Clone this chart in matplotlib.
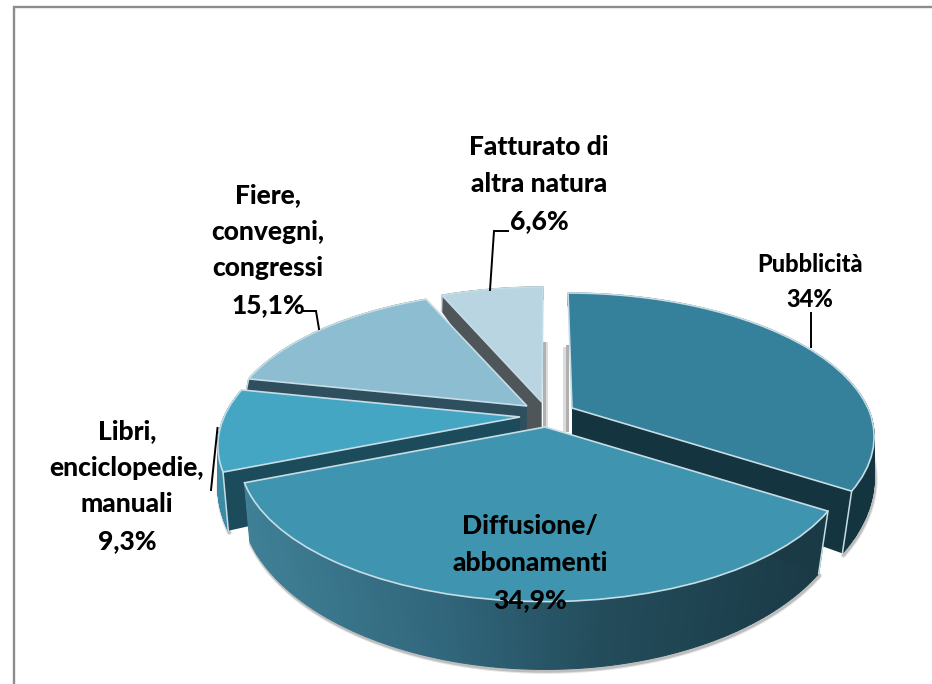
import numpy as np
import matplotlib
matplotlib.use("Agg")
import matplotlib.pyplot as plt
from matplotlib.transforms import Transform
from matplotlib.colors import LinearSegmentedColormap

plt.rcParams['font.family'] = ['Lato', 'DejaVu Sans']

# ---- data
categories = ["Pubblicità", "Diffusione/\nabbonamenti", "Libri,\nenciclopedie,\nmanuali",
              "Fiere,\nconvegni,\ncongressi", "Fatturato di\naltra natura"]
values = [34.0, 34.9, 9.3, 15.1, 6.6]
value_labels = ["34%", "34,9%", "9,3%", "15,1%", "6,6%"]

# ---- styling
top_colors = ["#35809a", "#3f95af", "#45a6c3", "#8cbdd1", "#b9d5e2"]
face_colors = ["#14343f", "#1a3a46", "#1c4b5c", "#2f4f5f", "#4f5659"]
arc_colors = ["#14343f", None, "#3c8ba5", "#2f4f5f", "#4f5659"]
apex_x = [572, 545, 520, 527, 541.7]
apex_y = [408, 427, 417, 406, 402]
scale = [1.0, 1.012, 1.0, 1.0, 1.0]
shear = [-4.0, 0.0, 0.0, 0.0, 1.3]
bottom_x = [1.0, 1.0, 1.0, 1.0, 0.93]
paint_order = [4, 3, 0, 2, 1]
edge = "#c6dde6"

TOP = dict(A=296.0, B=138.0, p=0.20, dy=0.0)
BOT = dict(A=300.0, B=168.6, p=0.12, dy=48.5)


class Persp(Transform):
    input_dims = output_dims = 2
    is_separable = False
    has_inverse = False

    def __init__(self, cx, cy, A, B, p, dy=0.0, k=1.0, s=0.0):
        super().__init__()
        self.v = (cx, cy, A * k, B * k, p, dy, s)

    def transform_non_affine(self, xy):
        xy = np.asarray(xy, float)
        cx, cy, A, B, p, dy, s = self.v
        w = 1 + p * xy[:, 1]
        return np.column_stack([cx + A * xy[:, 0] / w + s * np.clip(xy[:, 1], 0, None),
                                cy + dy - B * xy[:, 1] / w])


W, H = 932, 684
fig = plt.figure(figsize=(W / 100, H / 100), dpi=100, facecolor="white")
ax = fig.add_axes([0, 0, 1, 1])
wedges, _ = ax.pie(values, startangle=90, counterclock=False, colors=top_colors,
                   wedgeprops=dict(edgecolor=edge, linewidth=1.2))
ax.set_aspect("auto")
ax.set_xlim(0, W)
ax.set_ylim(H, 0)
ax.axis("off")

# chart frame: only the top and left sides show
ax.plot([W, 14, 14], [6.5, 6.5, H], color="#8c8c8c", lw=1.7, zorder=0, solid_joinstyle="miter")

grad = LinearSegmentedColormap.from_list(
    "g", [(0, "#3f8096"), (0.35, "#30657a"), (0.62, "#234c5b"), (1, "#1a3a46")])


def unit(t):
    t = np.radians(t)
    return np.column_stack([np.cos(t), np.sin(t)])


for rank, i in enumerate(paint_order):
    w = wedges[i]
    z = 10 * (rank + 1)
    top = Persp(apex_x[i], apex_y[i], TOP["A"], TOP["B"], TOP["p"], TOP["dy"], scale[i], shear[i])
    bot = Persp(apex_x[i], apex_y[i], BOT["A"] * bottom_x[i], BOT["B"], BOT["p"], BOT["dy"], scale[i], shear[i])
    w.set_transform(top + ax.transData)
    w.set_zorder(z + 5)
    w.set_clip_on(False)

    ths = np.linspace(w.theta1, w.theta2, 200)
    ptop = top.transform_non_affine(unit(ths))
    pbot = bot.transform_non_affine(unit(ths))

    # soft shadow under the outer rim, front part only
    front = np.sin(np.radians(ths)) < 0.3
    if front.any():
        for lw, al in ((3.5, 0.18), (2.0, 0.3)):
            ax.plot(pbot[front, 0] + 1, pbot[front, 1] + 2, color="#666666", lw=lw, alpha=al,
                    zorder=z - 1, solid_capstyle="round")

    # outer rim
    for j in range(len(ths) - 1):
        xm = (ptop[j, 0] + ptop[j + 1, 0]) / 2
        c = arc_colors[i] if arc_colors[i] else grad((xm - 245) / (825 - 245))
        quad = np.vstack([ptop[j], ptop[j + 1], pbot[j + 1], pbot[j]])
        ax.fill(quad[:, 0], quad[:, 1], color=c, lw=0.8, zorder=z + 1)

    # cut face towards the viewer
    t0 = w.theta1 if np.sin(np.radians(w.theta1)) < np.sin(np.radians(w.theta2)) else w.theta2
    o = np.array([[0.0, 0.0]])
    a0, a1 = top.transform_non_affine(o)[0], top.transform_non_affine(unit([t0]))[0]
    b0, b1 = bot.transform_non_affine(o)[0], bot.transform_non_affine(unit([t0]))[0]
    q = np.vstack([a0, a1, b1, b0])
    ax.fill(q[:, 0], q[:, 1], color=face_colors[i], lw=0, zorder=z + 2)
    ax.plot([a1[0], b1[0]], [a1[1], b1[1]], color=edge, lw=1.1, zorder=z + 3)

    # grey glow beside the central gap
    if i == 0:
        ax.fill([563, 566, 566, 563], [347, 347, 432, 432], color="#dcdcdc", lw=0, zorder=z - 2)
        ax.fill([566, 569, 569, 566], [345, 345, 432, 432], color="#b0b0b0", lw=0, zorder=z - 2)
    if i == 4:
        ax.fill([543, 545.5, 545.5, 543], [342, 342, 430, 430], color="#b0b0b0", lw=0, zorder=z - 2)
        ax.fill([545.5, 548, 548, 545.5], [342, 342, 430, 430], color="#dcdcdc", lw=0, zorder=z - 2)

# leader lines
lead = dict(color="black", lw=1.4, zorder=90, solid_joinstyle="miter")
ax.plot([811, 811], [347, 313], **lead)
ax.plot([490, 494, 508], [290, 231, 231], **lead)
ax.plot([303, 316, 319], [311, 311, 329], **lead)
ax.plot([217.5, 211], [428, 490], **lead)

# labels
label_pos = [(810, 282), (530, 563), (127, 486), (268, 250), (539, 184)]
sizes = [17.0, 19.0, 19.0, 19.0, 19.0]
spacing = [1.6, 1.64, 1.64, 1.64, 1.64]
for i, (name, val) in enumerate(zip(categories, value_labels)):
    ax.text(label_pos[i][0], label_pos[i][1], f"{name}\n{val}", ha="center", va="center",
            fontsize=sizes[i], fontweight="black", color="black", linespacing=spacing[i], zorder=100)

fig.savefig("out.png", dpi=100)
